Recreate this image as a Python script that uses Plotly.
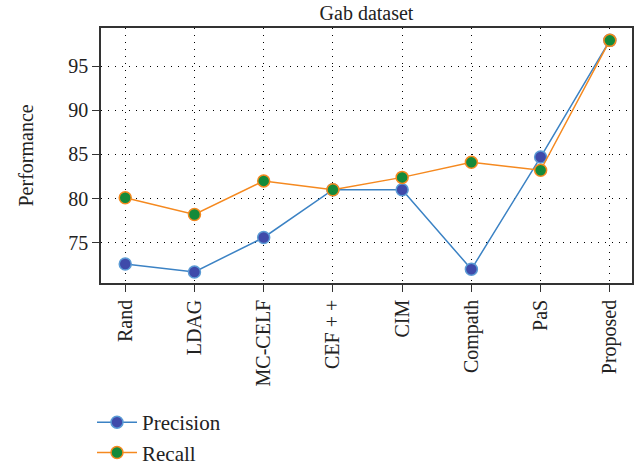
import plotly.graph_objects as go

categories = ["Rand", "LDAG", "MC-CELF", "CEF + +", "CIM", "Compath", "PaS", "Proposed"]
precision = [72.6, 71.7, 75.6, 81.0, 81.0, 72.0, 84.7, 97.9]
recall = [80.1, 78.2, 82.0, 81.0, 82.4, 84.1, 83.2, 97.9]
yticks = [75, 80, 85, 90, 95]

FONT = "Liberation Serif"
x = list(range(len(categories)))

L, R, T, B = 101, 632, 28, 283
W, H = 639, 466
PW, PH = R - L, B - T

fig = go.Figure()
fig.add_trace(go.Scatter(
    x=x, y=precision, mode="lines+markers", name="Precision",
    line=dict(color="#3b82c4", width=1.5),
    marker=dict(size=12, color="#3f4aaa", line=dict(color="#5b9bd5", width=1.5)),
))
fig.add_trace(go.Scatter(
    x=x, y=recall, mode="lines+markers", name="Recall",
    line=dict(color="#f5891f", width=1.5),
    marker=dict(size=12, color="#138a3a", line=dict(color="#f5891f", width=1.5)),
))

fig.update_layout(
    width=W, height=H,
    margin=dict(l=L, r=W - R, t=T, b=H - B, autoexpand=False),
    paper_bgcolor="white", plot_bgcolor="white",
    font=dict(family=FONT, size=20, color="#222"),
    title=dict(text="Gab dataset", x=(L + R) / 2 / W, xanchor="center",
               y=1 - 13 / H, yanchor="middle", font=dict(family=FONT, size=20)),
    showlegend=True,
    legend=dict(x=(92 - L) / PW, xanchor="left", y=(B - 402) / PH, yanchor="top",
                bgcolor="rgba(0,0,0,0)", font=dict(family=FONT, size=21),
                tracegroupgap=0, itemwidth=40),
    annotations=[dict(text="Performance", textangle=-90, showarrow=False,
                      xref="paper", yref="paper", x=(25 - L) / PW, y=0.5,
                      xanchor="center", yanchor="middle",
                      font=dict(family=FONT, size=20, color="#222"))],
)
grid = dict(showgrid=True, gridcolor="#000", griddash="1px,6px", gridwidth=1.2,
            showline=True, linecolor="#333", linewidth=1.5, mirror=True,
            ticks="outside", ticklen=7, tickcolor="#333", zeroline=False,
            automargin=False, tickfont=dict(family=FONT, size=20))
fig.update_xaxes(
    tickvals=x, ticktext=categories, tickangle=-90,
    range=[-0.35, 7.32], **grid,
)
fig.update_yaxes(tickvals=yticks, range=[70.45, 99.3], **grid)

fig.write_html("out.html")
